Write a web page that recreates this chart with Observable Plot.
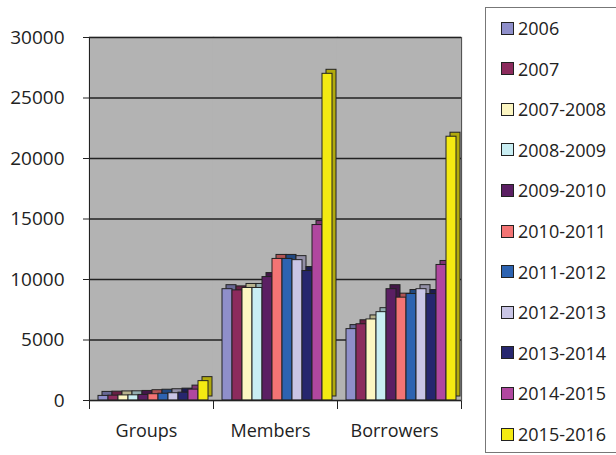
<!DOCTYPE html>
<html>
<head>
<meta charset="utf-8">
<script src="https://cdn.jsdelivr.net/npm/d3@7"></script>
<script src="https://cdn.jsdelivr.net/npm/@observablehq/plot@0.6"></script>
<style>
  body { margin: 0; background: #fff; font-family: "Open Sans", sans-serif; }
  #wrap { position: relative; width: 616px; height: 455px; overflow: hidden; }
  #chart { position: absolute; left: 0; top: 0; }
  #legend { position: absolute; left: 485px; top: 7px; width: 140px; height: 446px;
            border: 1px solid #777; box-sizing: border-box; }
  .item { position: absolute; left: 15px; display: flex; align-items: center;
          font-size: 18px; color: #222; line-height: 1; }
  .sw { width: 11px; height: 11px; border: 1px solid #222; margin-right: 4px; }
</style>
</head>
<body>
<div id="wrap"><div id="chart"></div><div id="legend"></div></div>
<script>
const categories = ["Groups", "Members", "Borrowers"];
const periods = ["2006", "2007", "2007-2008", "2008-2009", "2009-2010", "2010-2011",
                 "2011-2012", "2012-2013", "2013-2014", "2014-2015", "2015-2016"];
const colors = ["#8f8fca", "#8c2b5d", "#fcf6c2", "#c9eef3", "#5b1f63", "#f37474",
                "#2d63b1", "#c9c5e5", "#26266e", "#b0479f", "#f4ea12"];
const groupsValues    = [380, 400, 420, 430, 460, 520, 560, 600, 650, 900, 1600];
const membersValues   = [9200, 9100, 9300, 9300, 10200, 11700, 11700, 11600, 10700, 14500, 27000];
const borrowersValues = [5900, 6300, 6700, 7300, 9200, 8500, 8800, 9200, 8800, 11200, 21800];
const yTicks = [0, 5000, 10000, 15000, 20000, 25000, 30000];

const seriesByCategory = [groupsValues, membersValues, borrowersValues];
const data = categories.flatMap((c, i) =>
  periods.map((p, j) => ({category: c, period: p, value: seriesByCategory[i][j]})));
const colorOf = Object.fromEntries(periods.map((p, j) => [p, colors[j]]));
const darkOf = Object.fromEntries(periods.map((p, j) => [p, d3.color(colors[j]).darker(0.9).formatHex()]));

const chart = Plot.plot({
  width: 480, height: 455,
  marginLeft: 88, marginRight: 18, marginTop: 37, marginBottom: 55,
  style: {fontFamily: "Open Sans, sans-serif", fontSize: "18px", color: "#222", background: "transparent"},
  fx: {domain: categories, padding: 0, label: null, axis: null},
  x: {domain: periods, paddingInner: 0, paddingOuter: 0.61, align: 0.64, axis: null},
  y: {domain: [0, 30000], axis: null},
  marks: [
    Plot.frame({fill: "#b3b3b3", stroke: "#b3b3b3", strokeWidth: 1.5}),
    Plot.ruleY(yTicks.slice(1), {stroke: "#222", strokeWidth: 1.5}),
    Plot.barY(data, {fx: "category", x: "period", y: "value", fill: d => darkOf[d.period],
                     dx: 4, dy: -4, stroke: "#222", strokeWidth: 1}),
    Plot.barY(data, {fx: "category", x: "period", y: "value", fill: d => colorOf[d.period],
                     stroke: "#222", strokeWidth: 1}),
    Plot.ruleY([0], {stroke: "#222", strokeWidth: 1.5}),
    Plot.frame({anchor: "left", facetAnchor: "left", stroke: "#222", insetBottom: -8}),
    Plot.frame({anchor: "left", stroke: "#222", insetTop: 363, insetBottom: -8}),
    Plot.frame({anchor: "right", stroke: "#222", insetTop: 363, insetBottom: -8}),
    Plot.frame({anchor: "right", facetAnchor: "right", stroke: "#555"}),
    Plot.axisY({ticks: yTicks, tickSize: 6, tickPadding: 19, fontSize: 19,
                tickFormat: d3.format("d"), label: null, stroke: "#222"}),
    Plot.axisFx({anchor: "bottom", tickSize: 0, tickPadding: 24, dx: -5, fontSize: 18, label: null})
  ]
});
document.getElementById("chart").appendChild(chart);

const legend = document.getElementById("legend");
periods.forEach((p, j) => {
  const item = document.createElement("div");
  item.className = "item";
  item.style.top = (28 - 7 + j * 40.6 - 10) + "px";
  item.innerHTML = `<span class="sw" style="background:${colors[j]}"></span><span>${p}</span>`;
  legend.appendChild(item);
});
</script>
</body>
</html>
